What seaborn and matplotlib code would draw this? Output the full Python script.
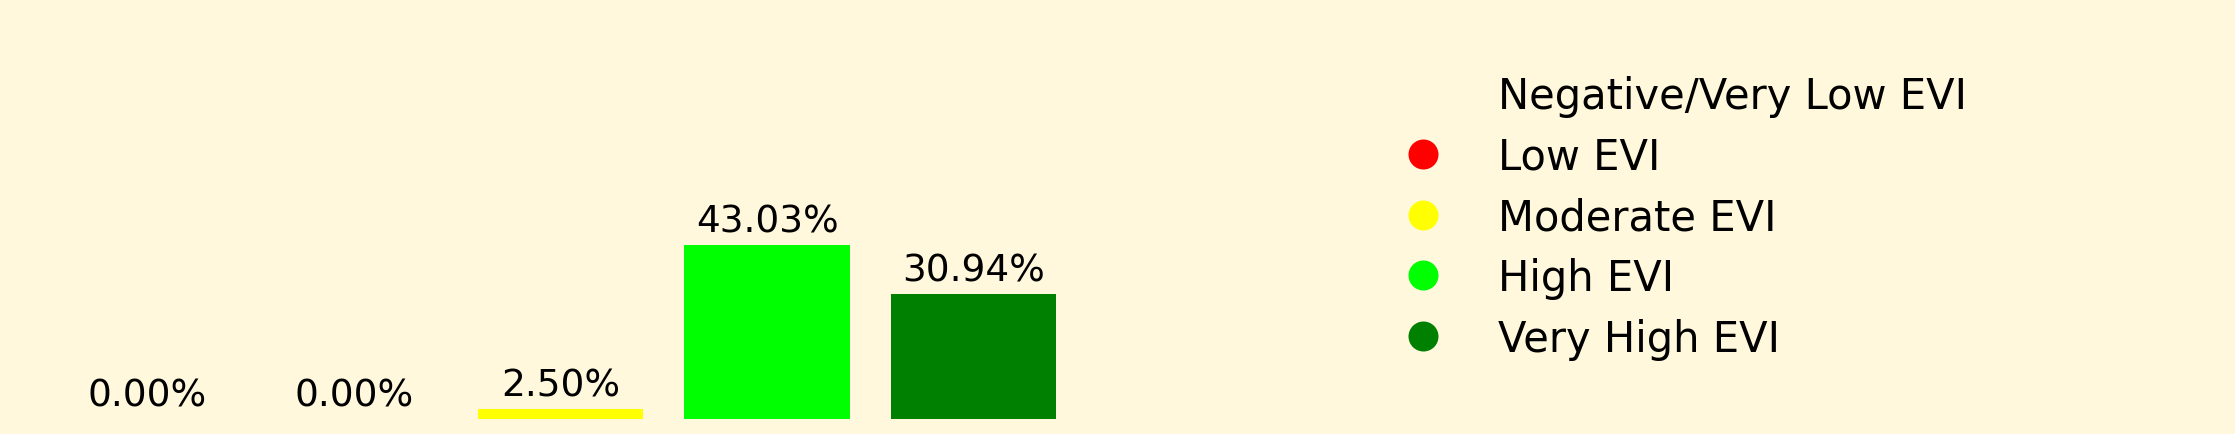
import seaborn as sns
from matplotlib import pyplot as plt
from matplotlib.lines import Line2D

# EVI class shares (%)
categories = ["Negative/Very Low EVI", "Low EVI", "Moderate EVI", "High EVI", "Very High EVI"]
percentages = [0.00, 0.00, 2.50, 43.03, 30.94]
colors = ["none", "red", "yellow", "lime", "green"]

bg = "cornsilk"

fig = plt.figure(figsize=(22.35, 4.35), dpi=100, facecolor=bg)
ax = fig.add_axes([44 / 2235, 15.3 / 435, 1033 / 2235, 404 / 435])
ax.set_facecolor(bg)

sns.barplot(x=categories, y=percentages, hue=categories, palette=colors,
            legend=False, saturation=1, width=0.8, ax=ax)
ax.set_xlim(-0.5, len(categories) - 0.5)
ax.set_ylim(0, 100)

# percentage labels above bars
for cont in ax.containers:
    ax.bar_label(cont, labels=[f"{v:.2f}%" for v in cont.datavalues],
                 padding=4, fontsize=27)

ax.axis("off")

# legend with circle markers
handles = [Line2D([0], [0], marker="o", linestyle="", markersize=21.6,
                  markerfacecolor=c, markeredgecolor="none") for c in colors]
fig.legend(handles, categories, loc="upper left",
           bbox_to_anchor=(1365 / 2235, 1 - 59 / 435),
           bbox_transform=fig.transFigure, borderaxespad=0,
           frameon=False, fontsize=30, handletextpad=0.8, labelspacing=0.45)

fig.savefig("out.png", dpi=100, facecolor=bg)
